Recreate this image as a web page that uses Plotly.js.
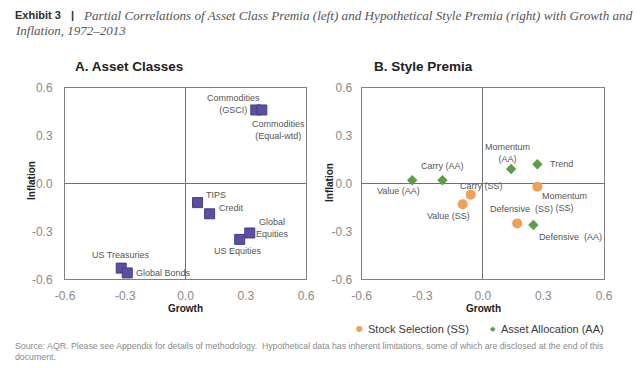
<!DOCTYPE html>
<html>
<head>
<meta charset="utf-8">
<script src="https://cdn.plot.ly/plotly-3.0.1.min.js"></script>
<style>html,body{margin:0;padding:0;background:#fff;}#chart{width:640px;height:368px;}</style>
</head>
<body>
<div id="chart"></div>
<script>
// ---- Data ----
const assetNames = ["Commodities (GSCI)", "Commodities (Equal-wtd)", "TIPS", "Credit", "Global Equities", "US Equities", "US Treasuries", "Global Bonds"];
const assetLabels = ["Commodities<br>(GSCI)", "Commodities<br>(Equal-wtd)", "TIPS", "Credit", "Global<br>Equities", "US Equities", "US Treasuries", "Global Bonds"];
const assetGrowth = [0.35, 0.38, 0.06, 0.12, 0.32, 0.27, -0.32, -0.29];
const assetInflation = [0.46, 0.46, -0.12, -0.19, -0.31, -0.35, -0.53, -0.56];

const ssNames = ["Carry (SS)", "Value (SS)", "Momentum (SS)", "Defensive (SS)"];
const ssLabels = ["Carry (SS)", "Value (SS)", "Momentum<br>(SS)", "Defensive  (SS)"];
const ssGrowth = [-0.06, -0.10, 0.27, 0.17];
const ssInflation = [-0.07, -0.13, -0.02, -0.25];

const aaNames = ["Value (AA)", "Carry (AA)", "Momentum (AA)", "Trend", "Defensive (AA)"];
const aaLabels = ["Value (AA)", "Carry (AA)", "Momentum<br>(AA)", "Trend", "Defensive  (AA)"];
const aaGrowth = [-0.35, -0.20, 0.14, 0.27, 0.25];
const aaInflation = [0.02, 0.02, 0.09, 0.12, -0.26];

const tickVals = [-0.6, -0.3, 0, 0.3, 0.6];
const tickText = ["-0.6", "-0.3", "0.0", "0.3", "0.6"];

// ---- Label placement (styles: anchor + pixel shifts) ----
const assetLabelPos = [
  {xa: "center", xs: -22, ys: 6},
  {xa: "center", xs: 17, ys: -20},
  {xa: "left", xs: 6, ys: 8},
  {xa: "left", xs: 7, ys: 6},
  {xa: "center", xs: 23, ys: 5},
  {xa: "center", xs: -2, ys: -12},
  {xa: "center", xs: 0, ys: 13},
  {xa: "left", xs: 7, ys: 0}
];
const ssLabelPos = [
  {xa: "center", xs: 11, ys: 9},
  {xa: "center", xs: -14, ys: -12},
  {xa: "center", xs: 27, ys: -15},
  {xa: "center", xs: 4, ys: 14}
];
const aaLabelPos = [
  {xa: "center", xs: -14, ys: -11},
  {xa: "center", xs: 0, ys: 14},
  {xa: "center", xs: -4, ys: 16},
  {xa: "left", xs: 11, ys: 0},
  {xa: "center", xs: 37, ys: -12}
];

const COL_SQ = "#5b50a0", COL_SQ_LINE = "#453d88";
const COL_SS = "#f0a057", COL_AA = "#5a9e46";
const SANS = "Liberation Sans, Arial, sans-serif";
const SERIF = "Liberation Serif, Times New Roman, serif";

const traces = [
  {type: "scatter", mode: "markers", x: assetGrowth, y: assetInflation, text: assetNames,
   xaxis: "x", yaxis: "y", name: "Asset Classes", showlegend: false, hoverinfo: "text",
   marker: {symbol: "square", size: 10, color: COL_SQ, line: {color: COL_SQ_LINE, width: 1}}},
  {type: "scatter", mode: "markers", x: ssGrowth, y: ssInflation, text: ssNames,
   xaxis: "x2", yaxis: "y2", name: "Stock Selection (SS)", showlegend: false, hoverinfo: "text",
   marker: {symbol: "circle", size: 10, color: COL_SS}},
  {type: "scatter", mode: "markers", x: aaGrowth, y: aaInflation, text: aaNames,
   xaxis: "x2", yaxis: "y2", name: "Asset Allocation (AA)", showlegend: false, hoverinfo: "text",
   marker: {symbol: "diamond", size: 8, color: COL_AA}}
];

function px(x) { return x / 640; }
function py(y) { return 1 - y / 368; }

const annotations = [];
function addLabels(xs, ys, labels, pos, xref, yref) {
  for (let i = 0; i < xs.length; i++) {
    annotations.push({x: xs[i], y: ys[i], xref: xref, yref: yref, text: labels[i],
      showarrow: false, xanchor: pos[i].xa, yanchor: "middle", xshift: pos[i].xs, yshift: pos[i].ys,
      align: "center", font: {family: SANS, size: 9, color: "#555555"}});
  }
}
addLabels(assetGrowth, assetInflation, assetLabels, assetLabelPos, "x", "y");
addLabels(ssGrowth, ssInflation, ssLabels, ssLabelPos, "x2", "y2");
addLabels(aaGrowth, aaInflation, aaLabels, aaLabelPos, "x2", "y2");

function paperText(text, x, y, xa, ya, font, extra) {
  annotations.push(Object.assign({text: text, x: px(x), y: py(y), xref: "paper", yref: "paper",
    showarrow: false, xanchor: xa, yanchor: ya, font: font, align: "left"}, extra || {}));
}
// Header
paperText("<b>Exhibit 3</b>", 13, 15, "left", "middle", {family: SANS, size: 11, color: "#2b2b2b"});
paperText("<b>|</b>", 72, 15, "center", "middle", {family: SANS, size: 11, color: "#2b2b2b"});
paperText("<i>Partial Correlations of Asset Class Premia (left) and Hypothetical Style Premia (right) with Growth and</i>", 81, 15, "left", "middle", {family: SERIF, size: 13.15, color: "#555555"});
paperText("<i>Inflation, 1972–2013</i>", 13, 31, "left", "middle", {family: SERIF, size: 13, color: "#555555"});
// Panel titles
paperText("<b>A. Asset Classes</b>", 73, 67, "left", "middle", {family: SANS, size: 13.5, color: "#222222"});
paperText("<b>B. Style Premia</b>", 371.5, 67, "left", "middle", {family: SANS, size: 13.5, color: "#222222"});
// Axis titles
paperText("<b>Inflation</b>", 31, 181, "center", "middle", {family: SANS, size: 10, color: "#222222"}, {textangle: -90});
paperText("<b>Inflation</b>", 330, 183, "center", "middle", {family: SANS, size: 10, color: "#222222"}, {textangle: -90});
paperText("<b>Growth</b>", 185, 308.5, "center", "middle", {family: SANS, size: 10, color: "#222222"});
paperText("<b>Growth</b>", 483.5, 308.5, "center", "middle", {family: SANS, size: 10, color: "#222222"});
// Legend
paperText("●", 359, 328.5, "center", "middle", {family: "DejaVu Sans", size: 8, color: COL_SS});
paperText("Stock Selection (SS)", 365.5, 328.5, "left", "middle", {family: SANS, size: 11, color: "#3a3a3a"});
paperText("◆", 492.5, 328.5, "center", "middle", {family: "DejaVu Sans", size: 7, color: COL_AA});
paperText("Asset Allocation (AA)", 499, 328.5, "left", "middle", {family: SANS, size: 11, color: "#3a3a3a"});
// Source
paperText("Source: AQR. Please see Appendix for details of methodology.  Hypothetical data has inherent limitations, some of which are disclosed at the end of this<br>document.", 13, 351, "left", "middle", {family: SANS, size: 8.75, color: "#8a8a8a"});

function axisCommon(extra) {
  return Object.assign({
    range: [-0.6, 0.6], tickvals: tickVals, ticktext: tickText, ticks: "",
    showgrid: false, zeroline: true, zerolinecolor: "#707070", zerolinewidth: 1,
    showline: true, mirror: true, linecolor: "#808080", linewidth: 1,
    tickfont: {family: SANS, size: 12, color: "#8a8a8a"}, fixedrange: true
  }, extra);
}

const layout = {
  width: 640, height: 368,
  margin: {l: 0, r: 0, t: 0, b: 0},
  paper_bgcolor: "#ffffff", plot_bgcolor: "#ffffff",
  showlegend: false,
  xaxis: axisCommon({domain: [px(65), px(306)], anchor: "y", ticklabelstandoff: 5}),
  yaxis: axisCommon({domain: [py(279.3), py(87.6)], anchor: "x", ticklabelstandoff: 9}),
  xaxis2: axisCommon({domain: [px(361.7), px(604)], anchor: "y2", ticklabelstandoff: 5}),
  yaxis2: axisCommon({domain: [py(279.3), py(87.6)], anchor: "x2", ticklabelstandoff: 6}),
  annotations: annotations
};

Plotly.newPlot("chart", traces, layout, {displayModeBar: false, staticPlot: true});
</script>
</body>
</html>
